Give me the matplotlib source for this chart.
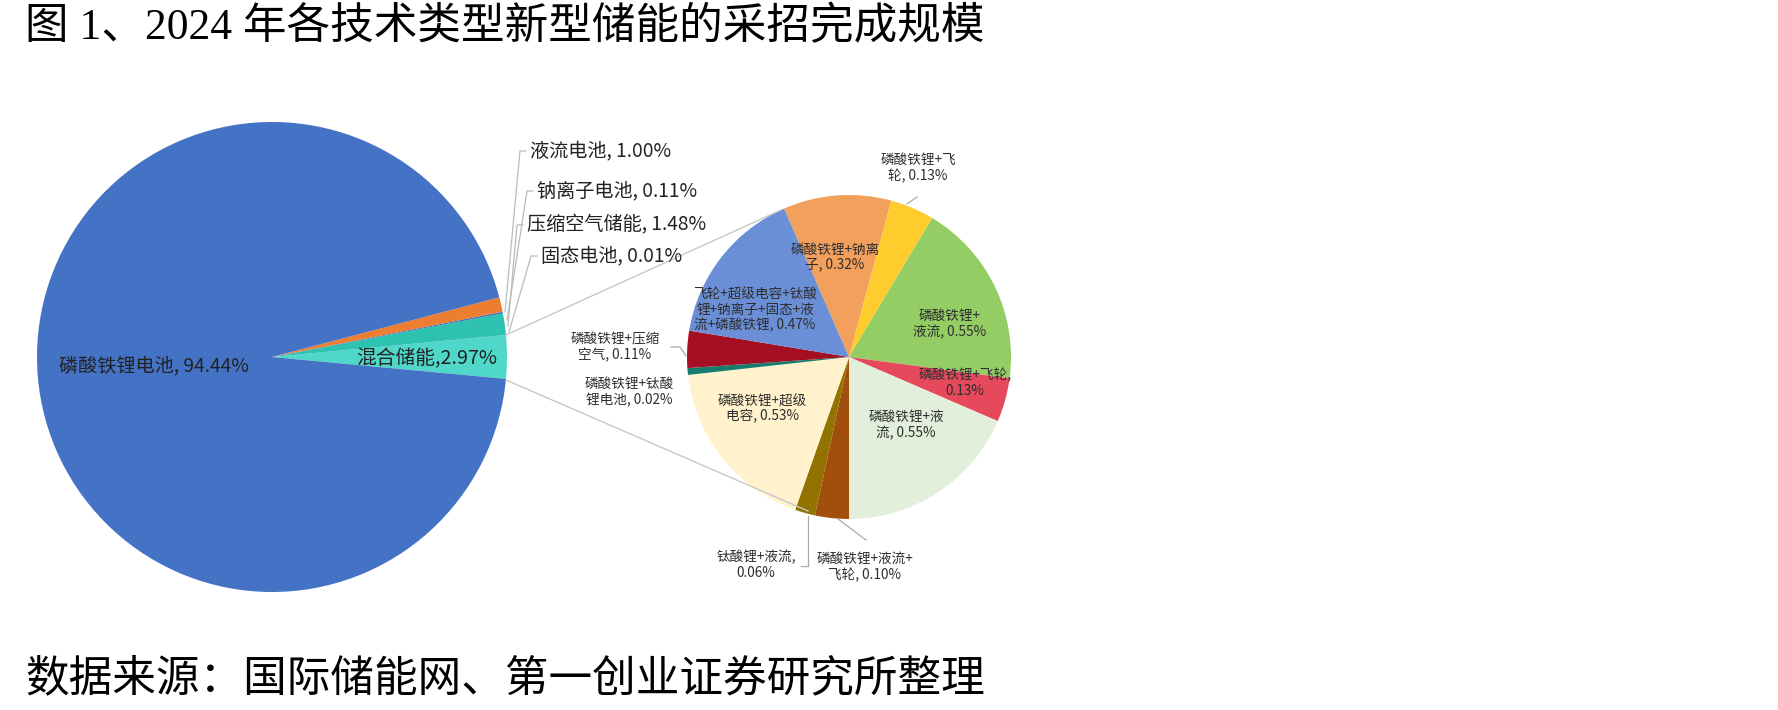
import matplotlib
matplotlib.use("Agg")
import matplotlib.pyplot as plt

plt.rcParams['font.family'] = ['Noto Sans CJK SC', 'DejaVu Sans']

# ---------------- data ----------------
title_text = "图 1、2024 年各技术类型新型储能的采招完成规模"
source_text = "数据来源：国际储能网、第一创业证券研究所整理"

main_labels = ['混合储能', '固态电池', '压缩空气储能', '钠离子电池', '液流电池', '磷酸铁锂电池']
main_values = [2.97, 0.01, 1.48, 0.11, 1.00, 94.44]
main_colors = ['#4FD8C9', '#2C9E92', '#2EC2B0', '#3A6FC0', '#ED7D31', '#4472C4']

sub_labels = ['磷酸铁锂+钠离子', '磷酸铁锂+飞轮', '磷酸铁锂+液流', '磷酸铁锂+飞轮',
              '磷酸铁锂+液流', '磷酸铁锂+液流+飞轮', '钛酸锂+液流', '磷酸铁锂+超级电容',
              '磷酸铁锂+钛酸锂电池', '磷酸铁锂+压缩空气',
              '飞轮+超级电容+钛酸锂+钠离子+固态+液流+磷酸铁锂']
sub_values = [0.32, 0.13, 0.55, 0.13, 0.55, 0.10, 0.06, 0.53, 0.02, 0.11, 0.47]
sub_colors = ['#F2A05C', '#FFCC2E', '#94CD64', '#E6485C', '#E2EFDA', '#A24F0C',
              '#927200', '#FFF2CC', '#167C6E', '#A50F23', '#6B8FD6']

# wrapped label strings as shown in the chart
sub_label_text = ['磷酸铁锂+钠离\n子, 0.32%', '磷酸铁锂+飞\n轮, 0.13%', '磷酸铁锂+\n液流, 0.55%',
                  '磷酸铁锂+飞轮,\n0.13%', '磷酸铁锂+液\n流, 0.55%', '磷酸铁锂+液流+\n飞轮, 0.10%',
                  '钛酸锂+液流,\n0.06%', '磷酸铁锂+超级\n电容, 0.53%', '磷酸铁锂+钛酸\n锂电池, 0.02%',
                  '磷酸铁锂+压缩\n空气, 0.11%', '飞轮+超级电容+钛酸\n锂+钠离子+固态+液\n流+磷酸铁锂, 0.47%']

# ---------------- layout ----------------
W, H = 1778, 710
fig = plt.figure(figsize=(W / 100, H / 100), dpi=100)
ax = fig.add_axes([0, 0, 1, 1])


def Y(y):
    return H - y


main_center = (272, Y(357))
main_r = 235
sub_center = (849, Y(357))
sub_r = 162

total_main = sum(main_values)
main_start = -main_values[0] / total_main * 360 / 2
ax.pie(main_values, colors=main_colors, center=main_center, radius=main_r,
       startangle=main_start, counterclock=True, frame=True,
       wedgeprops=dict(linewidth=0))

total_sub = sum(sub_values)
# boundary between slice 5 and 6 points straight down
sub_start = -90 + sum(sub_values[:5]) / total_sub * 360
ax.pie(sub_values, colors=sub_colors, center=sub_center, radius=sub_r,
       startangle=sub_start, counterclock=False, frame=True,
       wedgeprops=dict(linewidth=0))

line_c = '#C8C8C8'
# connector lines between pies
ax.plot([506, 781], [Y(335), Y(210)], color=line_c, lw=1.0, zorder=1)
ax.plot([506, 808], [Y(380), Y(511)], color=line_c, lw=1.0, zorder=1)

# ---------------- main pie labels ----------------
ax.text(154, Y(366), f"{main_labels[5]}, {main_values[5]:.2f}%", ha='center', va='center',
        fontsize=13.8, color='#222222', fontweight='medium')
ax.text(427, Y(359), f"{main_labels[0]},{main_values[0]:.2f}%", ha='center', va='center',
        fontsize=14.2, color='#222222', fontweight='medium')

small_pos = {4: (530, 151, 505, 312), 3: (537, 191, 507, 320),
             2: (527, 225, 508, 326), 1: (541, 256, 509, 332)}
for i, (tx, ty, ex, ey) in small_pos.items():
    ax.text(tx, Y(ty), f"{main_labels[i]}, {main_values[i]:.2f}%", ha='left', va='center',
            fontsize=13.8, color='#222222', fontweight='medium')
    ax.plot([tx - 4, tx - 10, ex], [Y(ty), Y(ty), Y(ey)], color='#BBBBBB', lw=0.9)

# ---------------- sub pie labels ----------------
sub_pos = [(835, 257), (918, 168), (950, 324), (965, 383), (906, 425), (865, 567),
           (756, 565), (762, 409), (629, 392), (615, 347), (755, 310)]
for txt, (x, y) in zip(sub_label_text, sub_pos):
    ax.text(x, Y(y), txt, ha='center', va='center', fontsize=9.8, color='#2E2E2E',
            linespacing=1.12, fontweight='medium')

lead_c = '#AAAAAA'
ax.plot([917, 907], [Y(197), Y(204)], color=lead_c, lw=0.9)
ax.plot([671, 680, 686], [Y(347), Y(347), Y(356)], color=lead_c, lw=0.9)
ax.plot([801, 808, 808], [Y(566), Y(566), Y(516)], color=lead_c, lw=0.9)
ax.plot([838, 866], [Y(519), Y(540)], color=lead_c, lw=0.9)

# ---------------- title & source ----------------
serif = ['Liberation Serif', 'Noto Sans CJK SC']
ax.text(25, Y(28), title_text, ha='left', va='center', fontsize=31.4, family=serif, color='black')
ax.text(25, Y(680), source_text, ha='left', va='center', fontsize=31.4, family=serif, color='black')

ax.set_xlim(0, W)
ax.set_ylim(0, H)
ax.set_aspect('equal')
ax.axis('off')

fig.savefig('out.png', dpi=100, facecolor='white')
